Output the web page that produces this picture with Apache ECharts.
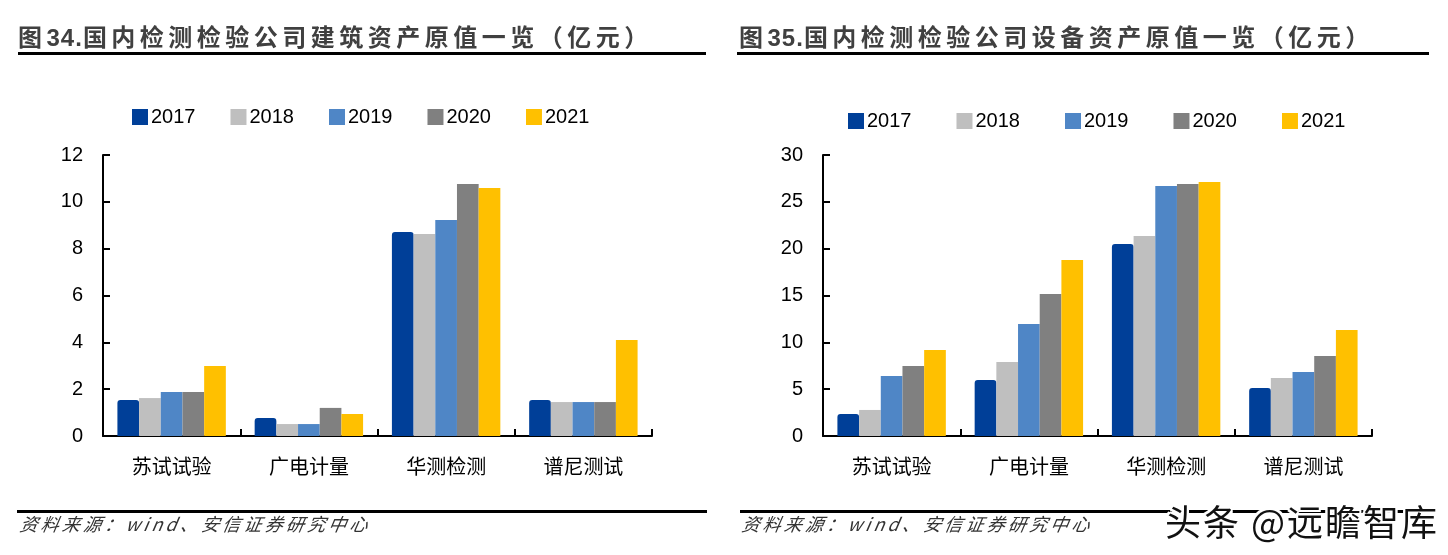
<!DOCTYPE html>
<html>
<head>
<meta charset="utf-8">
<script src="https://cdn.jsdelivr.net/npm/echarts@6/dist/echarts.min.js"></script>
<style>
  html, body { margin: 0; padding: 0; background: #fff; }
  #wrap { position: relative; width: 1448px; height: 555px; overflow: hidden; }
  #chart { position: absolute; left: 0; top: 0; width: 1448px; height: 555px; }
  .title { position: absolute; top: 20px; font-family: "Noto Sans CJK SC", sans-serif; font-weight: bold;
           font-size: 24px; line-height: 32px; letter-spacing: 4.5px; color: #404040; white-space: nowrap; }
  .title .num { font-family: "Liberation Sans", Arial, sans-serif; letter-spacing: 1px; }
  .rule { position: absolute; background: #000; }
  .src { position: absolute; top: 510px; font-family: "Noto Sans CJK SC", sans-serif; font-style: italic;
         font-size: 18px; line-height: 26px; letter-spacing: 3.2px; color: #333; white-space: nowrap; transform: skewX(-10deg); transform-origin: left bottom; }
  .wm { position: absolute; left: 1165px; top: 497px; font-family: "Noto Sans CJK SC", sans-serif; font-size: 36px; line-height: 46px;
        letter-spacing: 2px; color: #111; white-space: nowrap;
        text-shadow: -2px 0 #fff, 2px 0 #fff, 0 -2px #fff, 0 2px #fff, -2px -2px #fff, 2px 2px #fff, -2px 2px #fff, 2px -2px #fff; }
</style>
</head>
<body>
<div id="wrap">
  <div id="chart"></div>
  <div class="title" style="left:18px;">图<span class="num">34.</span>国内检测检验公司建筑资产原值一览（亿元）</div>
  <div class="title" style="left:739px;">图<span class="num">35.</span>国内检测检验公司设备资产原值一览（亿元）</div>
  <div class="rule" style="left:18px; top:52px; width:688px; height:3px;"></div>
  <div class="rule" style="left:737px; top:52px; width:692px; height:3px;"></div>
  <div class="rule" style="left:17px; top:510px; width:690px; height:3px;"></div>
  <div class="rule" style="left:740px; top:510px; width:690px; height:3px;"></div>
  <div class="src" style="left:18px;">资料来源：wind、安信证券研究中心</div>
  <div class="src" style="left:740px;">资料来源：wind、安信证券研究中心</div>
  <div class="wm">头条 @远瞻智库</div>
</div>
<script>
const categories = ['苏试试验', '广电计量', '华测检测', '谱尼测试'];
const years = ['2017', '2018', '2019', '2020', '2021'];
const colors = ['#003F98', '#BFBFBF', '#4F86C6', '#808080', '#FFC000'];

// 图34 建筑资产原值（亿元）
const building2017 = [1.54, 0.77, 8.71, 1.54];
const building2018 = [1.62, 0.51, 8.63, 1.45];
const building2019 = [1.88, 0.51, 9.22, 1.45];
const building2020 = [1.88, 1.20, 10.76, 1.45];
const building2021 = [2.99, 0.94, 10.59, 4.10];

// 图35 设备资产原值（亿元）
const equip2017 = [2.35, 5.98, 20.50, 5.12];
const equip2018 = [2.78, 7.90, 21.35, 6.19];
const equip2019 = [6.41, 11.96, 26.69, 6.83];
const equip2020 = [7.47, 15.16, 26.90, 8.54];
const equip2021 = [9.18, 18.79, 27.12, 11.32];

const yTicksLeft = { min: 0, max: 12, interval: 2 };
const yTicksRight = { min: 0, max: 30, interval: 5 };

const buildingData = [building2017, building2018, building2019, building2020, building2021];
const equipData = [equip2017, equip2018, equip2019, equip2020, equip2021];

const numFont = '"Liberation Sans", Arial, sans-serif';
const cjkFont = '"Noto Sans CJK SC", sans-serif';

function xAxis(idx) {
  return {
    type: 'category', gridIndex: idx, data: categories,
    axisLine: { show: true, lineStyle: { color: '#000', width: 2 } },
    axisTick: { show: true, inside: true, length: 7, lineStyle: { color: '#000', width: 2 } },
    axisLabel: { color: '#000', fontSize: 20, fontFamily: cjkFont, margin: 20 }
  };
}
function yAxis(idx, t) {
  return {
    type: 'value', gridIndex: idx, min: t.min, max: t.max, interval: t.interval,
    axisLine: { show: true, lineStyle: { color: '#000', width: 2 } },
    axisTick: { show: true, inside: true, length: 7, lineStyle: { color: '#000', width: 2 } },
    splitLine: { show: false },
    axisLabel: { color: '#000', fontSize: 20, fontFamily: numFont, margin: 20 }
  };
}

const series = [];
years.forEach((y, i) => {
  series.push({
    name: y, type: 'bar', xAxisIndex: 0, yAxisIndex: 0, data: buildingData[i],
    barGap: '0%', barCategoryGap: '21%',
    itemStyle: { color: colors[i], borderRadius: i === 0 ? [3, 3, 0, 0] : 0 }
  });
});
years.forEach((y, i) => {
  series.push({
    name: y, type: 'bar', xAxisIndex: 1, yAxisIndex: 1, data: equipData[i],
    barGap: '0%', barCategoryGap: '21%',
    itemStyle: { color: colors[i], borderRadius: i === 0 ? [3, 3, 0, 0] : 0 }
  });
});

const chart = echarts.init(document.getElementById('chart'), null, { renderer: 'canvas' });
chart.setOption({
  animation: false,
  color: colors,
  grid: [
    { left: 103, top: 155, width: 549, height: 281 },
    { left: 823, top: 155, width: 549, height: 281 }
  ],
  legend: [
    { data: years, left: 127, top: 102, itemWidth: 16, itemHeight: 16, itemGap: 35, icon: 'rect',
      textStyle: { color: '#000', fontSize: 20, fontFamily: numFont, padding: [0, 0, 0, -2] } },
    { data: years, left: 843, top: 106, itemWidth: 16, itemHeight: 16, itemGap: 45, icon: 'rect',
      textStyle: { color: '#000', fontSize: 20, fontFamily: numFont, padding: [0, 0, 0, -2] } }
  ],
  xAxis: [xAxis(0), xAxis(1)],
  yAxis: [yAxis(0, yTicksLeft), yAxis(1, yTicksRight)],
  series: series
});
</script>
</body>
</html>
